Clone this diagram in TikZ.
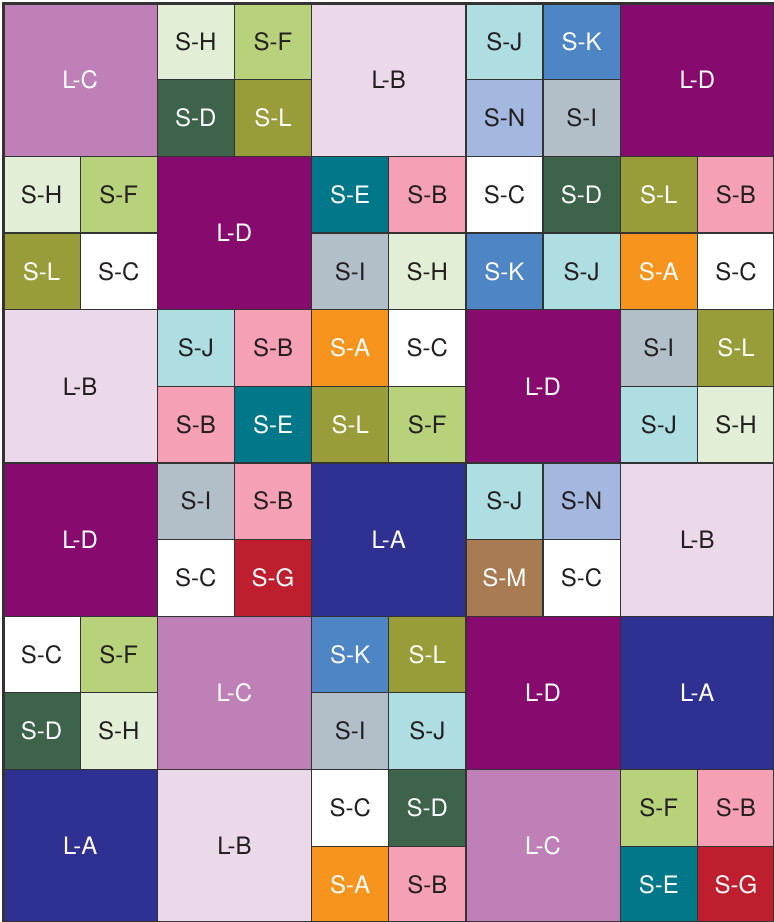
\documentclass[tikz,border=0pt]{standalone}
\usepackage{fontspec}
\setmainfont{TeX Gyre Heros}

\definecolor{edge}{HTML}{333333}
\definecolor{ink}{HTML}{231F20}
\definecolor{cLA}{HTML}{2E3192}
\definecolor{cLB}{HTML}{EBD9E9}
\definecolor{cLC}{HTML}{BE80B6}
\definecolor{cLD}{HTML}{870A6F}
\definecolor{cSA}{HTML}{F7941D}
\definecolor{cSB}{HTML}{F5A0B4}
\definecolor{cSC}{HTML}{FFFFFF}
\definecolor{cSD}{HTML}{3D644A}
\definecolor{cSE}{HTML}{00788A}
\definecolor{cSF}{HTML}{B8D27B}
\definecolor{cSG}{HTML}{BE1E2D}
\definecolor{cSH}{HTML}{E2EFD6}
\definecolor{cSI}{HTML}{B2BFC8}
\definecolor{cSJ}{HTML}{AEDDE2}
\definecolor{cSK}{HTML}{4E85C4}
\definecolor{cSL}{HTML}{989D3A}
\definecolor{cSM}{HTML}{A87B52}
\definecolor{cSN}{HTML}{A4B7DF}

\tikzset{
  tile/.style={rectangle, draw=edge, line width=1.2pt, inner sep=0pt, outer sep=0pt,
    font=\fontsize{24}{28}\selectfont, text=ink},
  big/.style={tile, minimum width=154.3pt, minimum height=153.3pt},
  small/.style={tile, minimum width=77.15pt, minimum height=76.65pt},
  la/.style={big, fill=cLA, text=white},
  lb/.style={big, fill=cLB},
  lc/.style={big, fill=cLC, text=white},
  ld/.style={big, fill=cLD, text=white},
  sa/.style={small, fill=cSA, text=white},
  sb/.style={small, fill=cSB},
  sc/.style={small, fill=cSC},
  sd/.style={small, fill=cSD, text=white},
  se/.style={small, fill=cSE, text=white},
  sf/.style={small, fill=cSF},
  sg/.style={small, fill=cSG, text=white},
  sh/.style={small, fill=cSH},
  si/.style={small, fill=cSI},
  sj/.style={small, fill=cSJ},
  sk/.style={small, fill=cSK, text=white},
  sl/.style={small, fill=cSL, text=white},
  sm/.style={small, fill=cSM, text=white},
  sn/.style={small, fill=cSN},
  frame/.style={draw=edge, line width=3pt}
}

\begin{document}
\begin{tikzpicture}[x=154.3pt, y=-153.3pt]
    \useasboundingbox (-3pt,3pt) rectangle ++(774pt,-922pt);

    % row 1
    \node[lc] (r1c1) at (0.5, 0.5) {L-C};
    \node[sh] (r1c2a) at (1.25, 0.25) {S-H};
    \node[sf] (r1c2b) at (1.75, 0.25) {S-F};
    \node[sd] (r1c2c) at (1.25, 0.75) {S-D};
    \node[sl] (r1c2d) at (1.75, 0.75) {S-L};
    \node[lb] (r1c3) at (2.5, 0.5) {L-B};
    \node[sj] (r1c4a) at (3.25, 0.25) {S-J};
    \node[sk] (r1c4b) at (3.75, 0.25) {S-K};
    \node[sn] (r1c4c) at (3.25, 0.75) {S-N};
    \node[si] (r1c4d) at (3.75, 0.75) {S-I};
    \node[ld] (r1c5) at (4.5, 0.5) {L-D};

    % row 2
    \node[sh] (r2c1a) at (0.25, 1.25) {S-H};
    \node[sf] (r2c1b) at (0.75, 1.25) {S-F};
    \node[sl] (r2c1c) at (0.25, 1.75) {S-L};
    \node[sc] (r2c1d) at (0.75, 1.75) {S-C};
    \node[ld] (r2c2) at (1.5, 1.5) {L-D};
    \node[se] (r2c3a) at (2.25, 1.25) {S-E};
    \node[sb] (r2c3b) at (2.75, 1.25) {S-B};
    \node[si] (r2c3c) at (2.25, 1.75) {S-I};
    \node[sh] (r2c3d) at (2.75, 1.75) {S-H};
    \node[sc] (r2c4a) at (3.25, 1.25) {S-C};
    \node[sd] (r2c4b) at (3.75, 1.25) {S-D};
    \node[sk] (r2c4c) at (3.25, 1.75) {S-K};
    \node[sj] (r2c4d) at (3.75, 1.75) {S-J};
    \node[sl] (r2c5a) at (4.25, 1.25) {S-L};
    \node[sb] (r2c5b) at (4.75, 1.25) {S-B};
    \node[sa] (r2c5c) at (4.25, 1.75) {S-A};
    \node[sc] (r2c5d) at (4.75, 1.75) {S-C};

    % row 3
    \node[lb] (r3c1) at (0.5, 2.5) {L-B};
    \node[sj] (r3c2a) at (1.25, 2.25) {S-J};
    \node[sb] (r3c2b) at (1.75, 2.25) {S-B};
    \node[sb] (r3c2c) at (1.25, 2.75) {S-B};
    \node[se] (r3c2d) at (1.75, 2.75) {S-E};
    \node[sa] (r3c3a) at (2.25, 2.25) {S-A};
    \node[sc] (r3c3b) at (2.75, 2.25) {S-C};
    \node[sl] (r3c3c) at (2.25, 2.75) {S-L};
    \node[sf] (r3c3d) at (2.75, 2.75) {S-F};
    \node[ld] (r3c4) at (3.5, 2.5) {L-D};
    \node[si] (r3c5a) at (4.25, 2.25) {S-I};
    \node[sl] (r3c5b) at (4.75, 2.25) {S-L};
    \node[sj] (r3c5c) at (4.25, 2.75) {S-J};
    \node[sh] (r3c5d) at (4.75, 2.75) {S-H};

    % row 4
    \node[ld] (r4c1) at (0.5, 3.5) {L-D};
    \node[si] (r4c2a) at (1.25, 3.25) {S-I};
    \node[sb] (r4c2b) at (1.75, 3.25) {S-B};
    \node[sc] (r4c2c) at (1.25, 3.75) {S-C};
    \node[sg] (r4c2d) at (1.75, 3.75) {S-G};
    \node[la] (r4c3) at (2.5, 3.5) {L-A};
    \node[sj] (r4c4a) at (3.25, 3.25) {S-J};
    \node[sn] (r4c4b) at (3.75, 3.25) {S-N};
    \node[sm] (r4c4c) at (3.25, 3.75) {S-M};
    \node[sc] (r4c4d) at (3.75, 3.75) {S-C};
    \node[lb] (r4c5) at (4.5, 3.5) {L-B};

    % row 5
    \node[sc] (r5c1a) at (0.25, 4.25) {S-C};
    \node[sf] (r5c1b) at (0.75, 4.25) {S-F};
    \node[sd] (r5c1c) at (0.25, 4.75) {S-D};
    \node[sh] (r5c1d) at (0.75, 4.75) {S-H};
    \node[lc] (r5c2) at (1.5, 4.5) {L-C};
    \node[sk] (r5c3a) at (2.25, 4.25) {S-K};
    \node[sl] (r5c3b) at (2.75, 4.25) {S-L};
    \node[si] (r5c3c) at (2.25, 4.75) {S-I};
    \node[sj] (r5c3d) at (2.75, 4.75) {S-J};
    \node[ld] (r5c4) at (3.5, 4.5) {L-D};
    \node[la] (r5c5) at (4.5, 4.5) {L-A};

    % row 6
    \node[la] (r6c1) at (0.5, 5.5) {L-A};
    \node[lb] (r6c2) at (1.5, 5.5) {L-B};
    \node[sc] (r6c3a) at (2.25, 5.25) {S-C};
    \node[sd] (r6c3b) at (2.75, 5.25) {S-D};
    \node[sa] (r6c3c) at (2.25, 5.75) {S-A};
    \node[sb] (r6c3d) at (2.75, 5.75) {S-B};
    \node[lc] (r6c4) at (3.5, 5.5) {L-C};
    \node[sf] (r6c5a) at (4.25, 5.25) {S-F};
    \node[sb] (r6c5b) at (4.75, 5.25) {S-B};
    \node[se] (r6c5c) at (4.25, 5.75) {S-E};
    \node[sg] (r6c5d) at (4.75, 5.75) {S-G};

    % outer frame
    \draw[frame] (r1c1.north west) rectangle (r6c5d.south east);
\end{tikzpicture}
\end{document}
